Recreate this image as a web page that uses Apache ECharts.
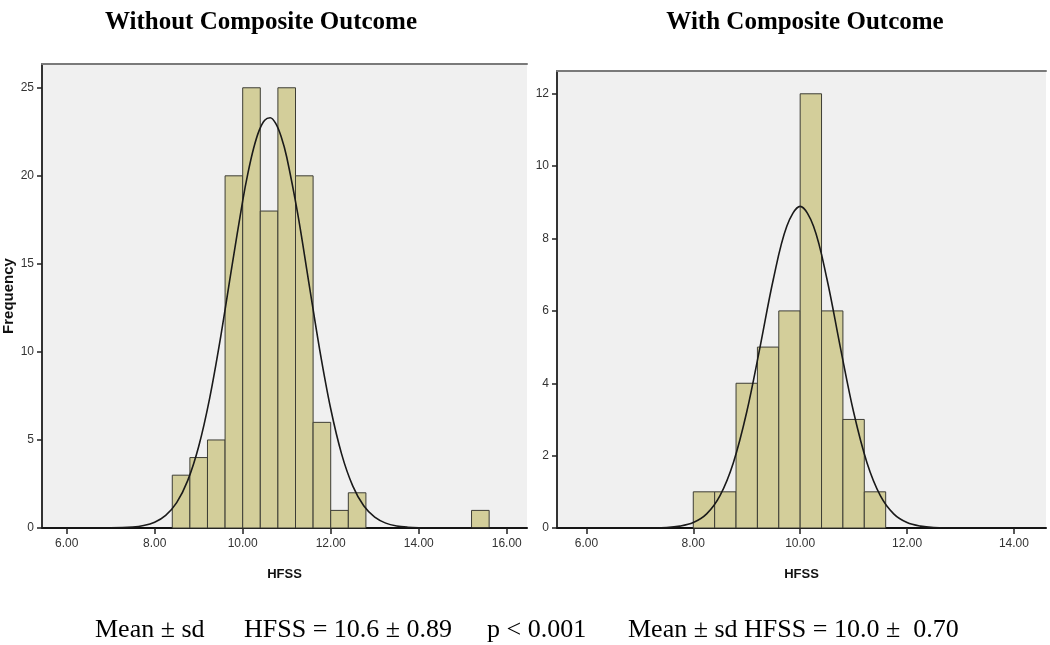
<!DOCTYPE html>
<html>
<head>
<meta charset="utf-8">
<script src="https://cdn.jsdelivr.net/npm/echarts@6/dist/echarts.min.js"></script>
<style>
html,body{margin:0;padding:0;background:#fff;}
#chart{width:1050px;height:645px;}
</style>
</head>
<body>
<div id="chart"></div>
<script>
// ---------- data ----------
const leftTitle = 'Without Composite Outcome';
const rightTitle = 'With Composite Outcome';
const xName = 'HFSS';
const yName = 'Frequency';

const leftBinLo  = [8.4, 8.8, 9.2, 9.6, 10.0, 10.4, 10.8, 11.2, 11.6, 12.0, 12.4, 15.2];
const leftBinHi  = [8.8, 9.2, 9.6, 10.0, 10.4, 10.8, 11.2, 11.6, 12.0, 12.4, 12.8, 15.6];
const leftCounts = [3, 4, 5, 20, 25, 18, 25, 20, 6, 1, 2, 1];

const rightBinLo  = [8.0, 8.4, 8.8, 9.2, 9.6, 10.0, 10.4, 10.8, 11.2];
const rightBinHi  = [8.4, 8.8, 9.2, 9.6, 10.0, 10.4, 10.8, 11.2, 11.6];
const rightCounts = [1, 1, 4, 5, 6, 12, 6, 3, 1];

// fitted normal curves
const leftCurveX = [5.44, 6.0, 6.5, 7.0, 7.5, 7.75, 8.0, 8.25, 8.5, 8.75, 9.0, 9.25, 9.5, 9.75, 10.0, 10.125, 10.25, 10.375, 10.5, 10.625, 10.75, 10.875, 11.0, 11.25, 11.5, 11.75, 12.0, 12.25, 12.5, 12.75, 13.0, 13.25, 13.5, 13.75, 14.0, 14.5, 15.0, 16.0, 16.46];
const leftCurveY = [0, 0, 0.001, 0.007, 0.054, 0.138, 0.327, 0.714, 1.44, 2.69, 4.63, 7.38, 10.86, 14.77, 18.58, 20.22, 21.58, 22.58, 23.16, 23.30, 22.98, 22.22, 21.07, 17.85, 13.98, 10.12, 6.77, 4.18, 2.39, 1.26, 0.615, 0.277, 0.115, 0.044, 0.016, 0.001, 0, 0, 0];

const rightCurveX = [5.45, 6.0, 7.0, 7.5, 7.75, 8.0, 8.25, 8.5, 8.75, 9.0, 9.25, 9.5, 9.75, 10.0, 10.25, 10.5, 10.75, 11.0, 11.25, 11.5, 11.75, 12.0, 12.25, 12.5, 13.0, 14.0, 14.6];
const rightCurveY = [0, 0, 0.001, 0.015, 0.051, 0.150, 0.391, 0.895, 1.806, 3.205, 5.008, 6.889, 8.341, 8.89, 8.341, 6.889, 5.008, 3.205, 1.806, 0.895, 0.391, 0.150, 0.051, 0.015, 0.001, 0, 0];

const leftXTicks  = [6, 8, 10, 12, 14, 16];
const rightXTicks = [6, 8, 10, 12, 14];
const leftYTicks  = [0, 5, 10, 15, 20, 25];
const rightYTicks = [0, 2, 4, 6, 8, 10, 12];

const footA = 'Mean \u00b1 sd';
const footB = 'HFSS = 10.6 \u00b1 0.89';
const footC = 'p < 0.001';
const footD = 'Mean \u00b1 sd HFSS = 10.0 \u00b1  0.70';

// ---------- chart ----------
const chart = echarts.init(document.getElementById('chart'), null, {renderer: 'canvas'});

const tickFont = {fontFamily: '"Liberation Sans Narrow", "Liberation Sans", Arial, sans-serif', fontSize: 12, color: '#333'};
const BAR_FILL = '#d3ce9a';
const BAR_STROKE = '#3d3d35';
const FOOT_FONT = '26px "Liberation Serif", "Times New Roman", serif';

function histData(lo, hi, c) { return lo.map((v, i) => [v, hi[i], c[i]]); }
function curveData(xs, ys) { return xs.map((v, i) => [v, ys[i]]); }

function renderBar(params, api) {
  const p0 = api.coord([api.value(0), api.value(2)]);
  const p1 = api.coord([api.value(1), 0]);
  return {
    type: 'rect',
    shape: {x: p0[0], y: p0[1], width: p1[0] - p0[0], height: p1[1] - p0[1]},
    style: {fill: BAR_FILL, stroke: BAR_STROKE, lineWidth: 1}
  };
}

function xAxisMain(gi, min, max, ticks) {
  return {
    type: 'value', gridIndex: gi, min: min, max: max, position: 'bottom',
    splitLine: {show: false},
    axisLine: {show: true, onZero: false, lineStyle: {color: '#111', width: 2}},
    axisTick: {show: true, length: 6, customValues: ticks, lineStyle: {color: '#222', width: 1.5}},
    axisLabel: Object.assign({customValues: ticks, margin: 10, formatter: v => v.toFixed(2)}, tickFont),
    name: xName, nameLocation: 'middle', nameGap: 40,
    nameTextStyle: {fontFamily: '"Liberation Sans", Arial, sans-serif', fontWeight: 'bold', fontSize: 13, color: '#111'}
  };
}
function xAxisTop(gi, min, max) {
  return {
    type: 'value', gridIndex: gi, min: min, max: max, position: 'top',
    splitLine: {show: false},
    axisLine: {show: true, onZero: false, lineStyle: {color: '#7a7a7a', width: 2}},
    axisTick: {show: false}, axisLabel: {show: false}
  };
}
function yAxisMain(gi, max, ticks, name) {
  return {
    type: 'value', gridIndex: gi, min: 0, max: max,
    splitLine: {show: false},
    axisLine: {show: true, onZero: false, lineStyle: {color: '#333', width: 2}},
    axisTick: {show: true, length: 5, customValues: ticks, lineStyle: {color: '#222', width: 1.5}},
    axisLabel: Object.assign({customValues: ticks, margin: 8}, tickFont),
    name: name, nameLocation: 'middle', nameGap: 23,
    nameTextStyle: {fontFamily: '"Liberation Sans", Arial, sans-serif', fontWeight: 'bold', fontSize: 15, color: '#111'}
  };
}

const option = {
  backgroundColor: '#ffffff',
  animation: false,
  title: [
    {text: leftTitle, left: 256, top: 5, textAlign: 'center',
     textStyle: {fontFamily: '"Liberation Serif", "Times New Roman", serif', fontWeight: 'bold', fontSize: 25, color: '#000'}},
    {text: rightTitle, left: 800, top: 5, textAlign: 'center',
     textStyle: {fontFamily: '"Liberation Serif", "Times New Roman", serif', fontWeight: 'bold', fontSize: 25, color: '#000'}}
  ],
  grid: [
    {left: 42, top: 64, width: 485, height: 464, show: true, backgroundColor: '#f0f0f0', borderWidth: 0},
    {left: 557, top: 71, width: 489, height: 457, show: true, backgroundColor: '#f0f0f0', borderWidth: 0}
  ],
  xAxis: [
    xAxisMain(0, 5.44, 16.46, leftXTicks),
    xAxisMain(1, 5.45, 14.6, rightXTicks),
    xAxisTop(0, 5.44, 16.46),
    xAxisTop(1, 5.45, 14.6)
  ],
  yAxis: [
    yAxisMain(0, 26.35, leftYTicks, yName),
    yAxisMain(1, 12.63, rightYTicks, '')
  ],
  series: [
    {type: 'custom', xAxisIndex: 0, yAxisIndex: 0, renderItem: renderBar,
     encode: {x: [0, 1], y: 2}, data: histData(leftBinLo, leftBinHi, leftCounts), z: 2},
    {type: 'custom', xAxisIndex: 1, yAxisIndex: 1, renderItem: renderBar,
     encode: {x: [0, 1], y: 2}, data: histData(rightBinLo, rightBinHi, rightCounts), z: 2},
    {type: 'line', xAxisIndex: 0, yAxisIndex: 0, data: curveData(leftCurveX, leftCurveY),
     showSymbol: false, symbol: 'none', smooth: 0.35,
     lineStyle: {color: '#1a1a1a', width: 1.6}, z: 3},
    {type: 'line', xAxisIndex: 1, yAxisIndex: 1, data: curveData(rightCurveX, rightCurveY),
     showSymbol: false, symbol: 'none', smooth: 0.35,
     lineStyle: {color: '#1a1a1a', width: 1.6}, z: 3}
  ],
  graphic: [
    {type: 'text', left: 95, top: 617, style: {text: footA, font: FOOT_FONT, fill: '#000'}},
    {type: 'text', left: 244, top: 617, style: {text: footB, font: FOOT_FONT, fill: '#000'}},
    {type: 'text', left: 487, top: 617, style: {text: footC, font: FOOT_FONT, fill: '#000'}},
    {type: 'text', left: 628, top: 617, style: {text: footD, font: FOOT_FONT, fill: '#000'}}
  ]
};
chart.setOption(option);
</script>
</body>
</html>
